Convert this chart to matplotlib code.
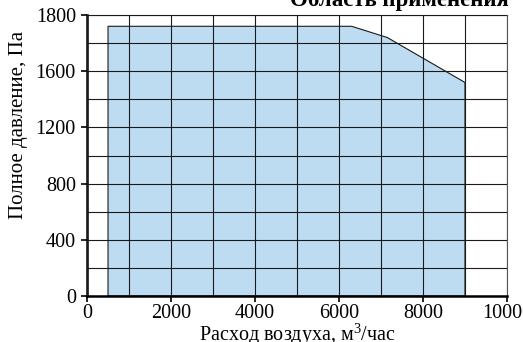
import matplotlib.pyplot as plt
import numpy as np

# область применения (контур)
flow = [500, 500, 6300, 7150, 9000, 9000]
pressure = [0, 1920, 1920, 1840, 1520, 0]

y_ticks = [0, 400, 800, 1200, 1600, 2000]
y_labels = ['0', '400', '800', '1200', '1600', '1800']
x_ticks = [0, 2000, 4000, 6000, 8000, 10000]

plt.rcParams['font.family'] = ['Liberation Serif', 'DejaVu Serif']
plt.rcParams['mathtext.fontset'] = 'custom'
plt.rcParams['mathtext.rm'] = 'Liberation Serif'

fig = plt.figure(figsize=(5.23, 3.42), dpi=100)
ax = fig.add_axes([0.1664, 0.1345, 0.803, 0.8215])

ax.fill(flow, pressure, facecolor='#bddcf2', edgecolor='#1a1a1a', linewidth=0.8, zorder=1)

ax.set_xlim(0, 10000)
ax.set_ylim(0, 2000)
ax.set_xticks(np.arange(0, 10001, 1000), minor=True)
ax.set_yticks(np.arange(0, 2001, 200), minor=True)
ax.set_xticks(x_ticks)
ax.set_yticks(y_ticks)
ax.set_yticklabels(y_labels)
ax.grid(which='both', color='#1a1a1a', linewidth=0.8, zorder=2)
ax.set_axisbelow(False)
ax.tick_params(which='minor', length=0)
ax.tick_params(which='major', length=4, width=1.2, direction='out', labelsize=14.5, pad=4)
ax.tick_params(axis='x', pad=2)

for s in ['left', 'bottom']:
    ax.spines[s].set_linewidth(1.8)
for s in ['top', 'right']:
    ax.spines[s].set_linewidth(0.8)
    ax.spines[s].set_color('#555555')

ax.set_xlabel('Расход воздуха, м$^3$/час', fontsize=14.5)
ax.xaxis.set_label_coords(0.5, -0.088)
ax.set_ylabel('Полное давление, Па', fontsize=15)
ax.yaxis.set_label_coords(-0.14, 0.61)

fig.text(0.972, 0.981, 'Область применения', ha='right', va='baseline',
         fontsize=16.5, fontweight='bold')

fig.savefig('out.png', dpi=100)
